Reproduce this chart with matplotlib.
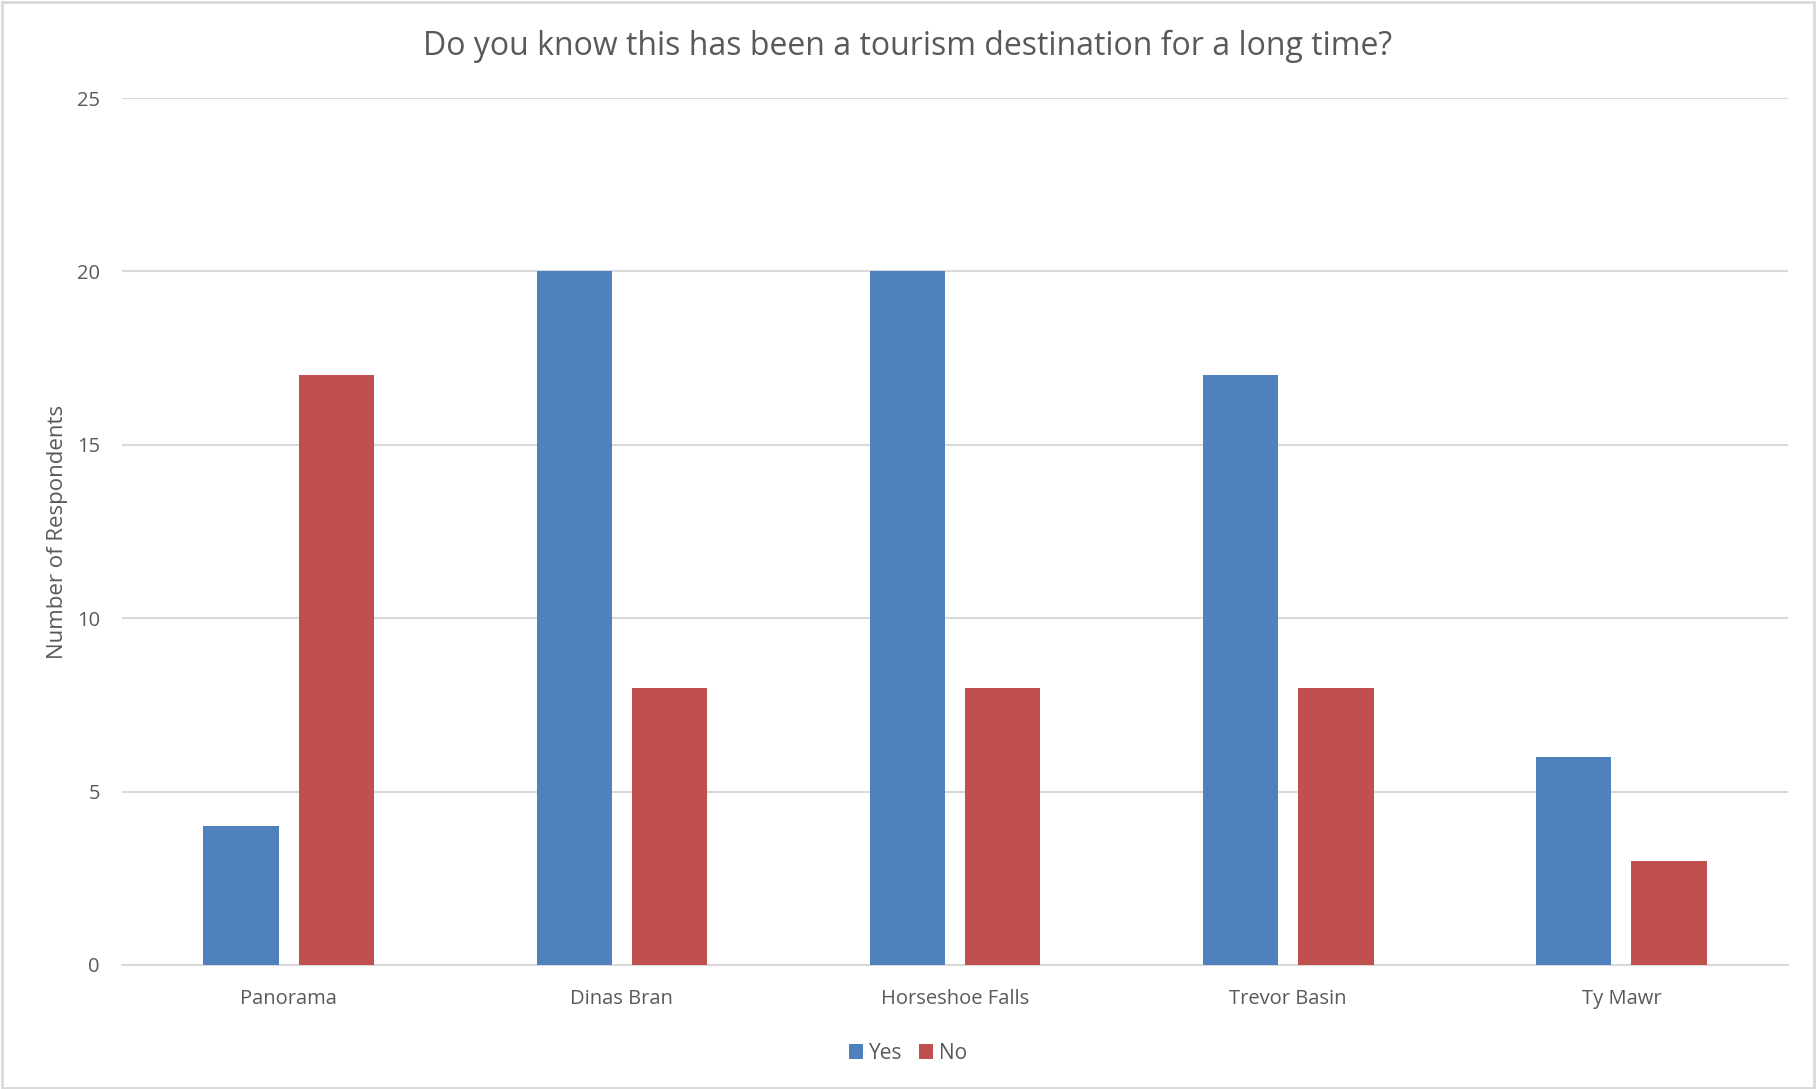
import numpy as np
import matplotlib.pyplot as plt
from matplotlib.patches import Rectangle

plt.rcParams['font.family'] = ['Open Sans', 'DejaVu Sans']

categories = ['Panorama', 'Dinas Bran', 'Horseshoe Falls', 'Trevor Basin', 'Ty Mawr']
yes_vals = [4, 20, 20, 17, 6]
no_vals = [17, 8, 8, 8, 3]

blue = '#4F81BD'
red = '#C0504D'
grey_txt = '#595959'

fig = plt.figure(figsize=(18.16, 10.89), dpi=100)
ax = fig.add_axes([0.0672, 0.1139, 0.9174, 0.7961])

x = np.arange(len(categories))
w = 0.226
ax.bar(x - 0.143, yes_vals, w, color=blue, label='Yes', zorder=3)
ax.bar(x + 0.143, no_vals, w, color=red, label='No', zorder=3)

ax.set_xlim(-0.5, len(categories) - 0.5)
ax.set_ylim(0, 25)
ax.set_yticks(range(0, 26, 5))
ax.set_xticks(x)
ax.set_xticklabels(categories)
ax.grid(axis='y', color='#D9D9D9', linewidth=1.5, zorder=0)
for s in ['top', 'right', 'left']:
    ax.spines[s].set_visible(False)
ax.spines['bottom'].set_color('#D9D9D9')
ax.spines['bottom'].set_linewidth(1.5)
ax.tick_params(axis='both', length=0, labelsize=14.5, colors=grey_txt)
ax.tick_params(axis='y', pad=16)
ax.tick_params(axis='x', pad=17)

ax.set_ylabel('Number of Respondents', fontsize=16, color=grey_txt, labelpad=6)
fig.suptitle('Do you know this has been a tourism destination for a long time?',
             fontsize=23, color=grey_txt, y=0.957, va='center')

leg = fig.legend(loc='center', bbox_to_anchor=(0.5, 0.033), ncol=2, frameon=False,
                 fontsize=15, handlelength=0.65, handleheight=0.7, handletextpad=0.3,
                 columnspacing=0.8)
for t in leg.get_texts():
    t.set_color(grey_txt)

fig.patches.append(Rectangle((0.001, 0.001), 0.998, 0.997, transform=fig.transFigure,
                             fill=False, edgecolor='#D9D9D9', linewidth=2))

fig.savefig('out.png', dpi=100)
